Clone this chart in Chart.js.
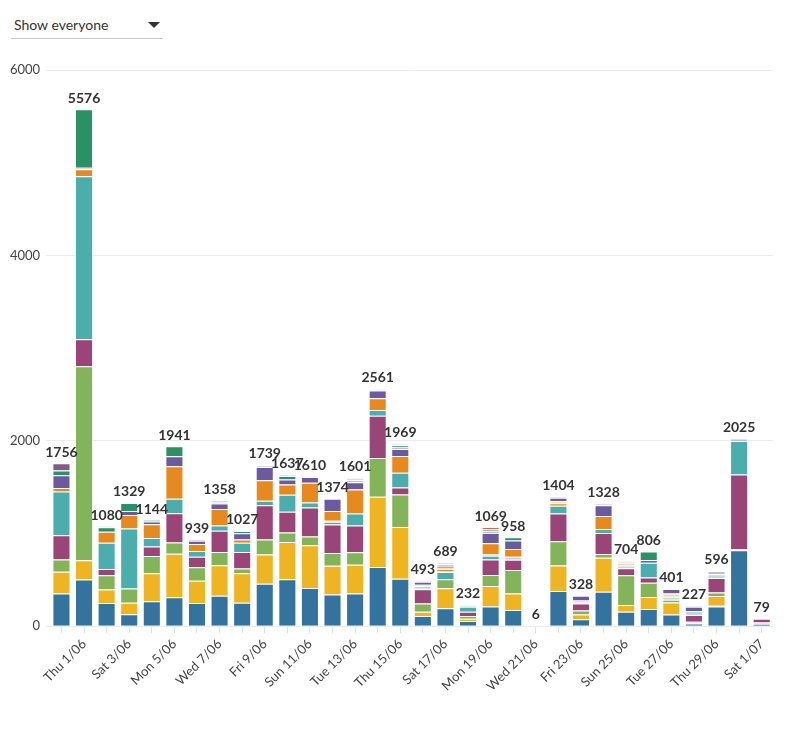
<!DOCTYPE html>
<html>
<head>
<meta charset="utf-8">
<script src="https://cdn.jsdelivr.net/npm/chart.js@4.4.1/dist/chart.umd.min.js"></script>
<style>
  body { margin: 0; background: #fff; font-family: Lato, sans-serif; }
  .picker {
    position: absolute; left: 11px; top: 12px; width: 152px; height: 26px;
    border-bottom: 1px solid #c8c8c8; color: #333; font-size: 14px;
  }
  .picker span { position: absolute; left: 3px; top: 4px; }
  .picker .arrow {
    position: absolute; left: 137px; top: 10px; width: 0; height: 0;
    border-left: 6px solid transparent; border-right: 6px solid transparent;
    border-top: 6px solid #333;
  }
  .wrap { position: absolute; left: 0; top: 50px; width: 796px; height: 685px; }
</style>
</head>
<body>
<div class="picker"><span>Show everyone</span><div class="arrow"></div></div>
<div class="wrap"><canvas id="chart"></canvas></div>
<script>
const days = ['Wed 31/05','Thu 1/06','Fri 2/06','Sat 3/06','Sun 4/06','Mon 5/06','Tue 6/06','Wed 7/06',
  'Thu 8/06','Fri 9/06','Sat 10/06','Sun 11/06','Mon 12/06','Tue 13/06','Wed 14/06','Thu 15/06',
  'Fri 16/06','Sat 17/06','Sun 18/06','Mon 19/06','Tue 20/06','Wed 21/06','Thu 22/06','Fri 23/06',
  'Sat 24/06','Sun 25/06','Mon 26/06','Tue 27/06','Wed 28/06','Thu 29/06','Fri 30/06','Sat 1/07']

// series, bottom of the stack first
const blue = [353,502,250,128,269,311,250,327,253,457,505,412,342,352,637,511,110,194,56,212,175,0,379,75,372,154,184,126,29,213,819,27]
const lightBlue = [0,0,0,0,0,0,0,0,0,0,0,0,0,0,0,0,0,0,0,0,0,0,0,0,0,0,0,0,18,8,0,13]
const yellow = [234,210,146,124,302,471,239,329,318,315,402,460,309,311,759,558,45,214,25,221,176,0,275,50,365,74,129,129,0,103,10,0]
const green = [133,2091,153,153,185,119,147,144,50,162,104,94,137,133,417,352,90,99,29,120,254,0,263,45,40,320,156,29,0,38,0,0]
const magenta = [261,291,67,0,104,317,112,230,180,370,223,313,309,291,457,76,153,0,45,165,110,0,297,74,227,76,56,0,74,158,808,39]
const teal = [471,1759,284,649,92,155,63,56,99,50,183,54,29,129,61,158,0,77,54,42,0,0,85,0,43,0,160,0,0,0,361,0]
const lightTeal = [0,0,0,0,0,0,0,0,0,0,0,0,11,0,0,0,16,11,0,14,34,0,0,16,0,30,0,33,43,40,0,0]
const orange = [38,76,119,146,146,352,74,178,34,219,112,214,104,257,128,180,16,22,0,119,83,0,27,0,140,0,0,0,0,0,0,0]
const peach = [0,0,0,0,0,0,0,0,0,0,0,0,0,0,0,0,17,14,0,0,0,0,20,16,0,30,0,34,0,0,0,0]
const violet = [137,0,0,41,32,108,36,58,68,144,54,63,133,79,83,76,31,18,0,112,92,0,38,52,117,0,29,50,45,0,0,0]
const lightPurple = [0,16,0,0,0,0,18,18,0,0,0,0,0,24,0,20,0,18,0,23,0,0,0,0,0,0,0,0,0,36,27,0]
const darkGreen = [52,631,47,88,14,108,0,0,25,0,36,0,0,0,0,20,0,0,0,18,34,0,0,0,0,0,92,0,0,0,0,0]
const red = [0,0,0,0,0,0,0,0,0,0,0,0,0,0,0,0,0,0,0,23,0,0,0,0,0,0,0,0,0,0,0,0]
const mauve = [77,0,0,0,0,0,0,0,0,0,0,0,0,0,0,0,0,0,0,0,0,0,0,0,0,0,0,0,0,0,0,0]
const lightGray = [0,0,14,0,0,0,0,18,0,22,18,0,0,25,19,18,15,22,23,0,0,6,20,0,24,20,0,0,18,0,0,0]

const yTicks = [0, 2000, 4000, 6000]

const series = [
  [blue, '#35739f'], [lightBlue, '#c9dce9'], [yellow, '#eeb422'], [green, '#84b459'],
  [magenta, '#9a4577'], [teal, '#4cadad'], [lightTeal, '#b6dede'], [orange, '#e6891e'],
  [peach, '#fbd6a8'], [violet, '#6b5b9e'], [lightPurple, '#c5b8d8'], [darkGreen, '#2a9167'],
  [red, '#e0603f'], [mauve, '#845c82'], [lightGray, '#dcdcdc']
]

// totals above each stack
const totalsPlugin = {
  id: 'totals',
  afterDatasetsDraw(chart) {
    const ctx = chart.ctx
    const meta = chart.getDatasetMeta(0)
    const y = chart.scales.y
    ctx.save()
    ctx.font = 'bold 14px Lato'
    ctx.fillStyle = '#333'
    ctx.textAlign = 'center'
    ctx.textBaseline = 'bottom'
    days.forEach((d, i) => {
      let total = 0
      series.forEach(s => total += s[0][i])
      ctx.fillText(total, meta.data[i].x, y.getPixelForValue(total) - 4)
    })
    ctx.restore()
  }
}

new Chart(document.getElementById('chart'), {
  type: 'bar',
  data: {
    labels: days,
    datasets: series.map(s => ({
      data: s[0],
      backgroundColor: s[1],
      borderColor: 'rgba(255,255,255,0.85)',
      borderWidth: 1,
      borderSkipped: 'start',
      barPercentage: 0.8,
      categoryPercentage: 1
    }))
  },
  options: {
    responsive: true,
    maintainAspectRatio: false,
    animation: false,
    layout: { padding: { top: 20, right: 23, left: 4, bottom: 38 } },
    plugins: { legend: { display: false }, tooltip: { enabled: false } },
    scales: {
      x: {
        stacked: true,
        grid: { display: true, drawOnChartArea: false, offset: false, color: '#e2e2e2', tickLength: 7 },
        border: { display: false },
        ticks: {
          autoSkip: false, maxRotation: 45, minRotation: 45,
          color: '#444', font: { family: 'Lato', size: 13 },
          callback: (v, i) => i % 2 === 1 ? days[i] : ''
        }
      },
      y: {
        stacked: true,
        min: 0, max: 6000,
        afterBuildTicks: axis => { axis.ticks = yTicks.map(v => ({ value: v })) },
        grid: { color: '#ececec', tickLength: 4 },
        border: { display: false },
        ticks: { padding: 6, color: '#444', font: { family: 'Lato', size: 13 }, callback: v => String(v) }
      }
    }
  },
  plugins: [totalsPlugin]
})
</script>
</body>
</html>
